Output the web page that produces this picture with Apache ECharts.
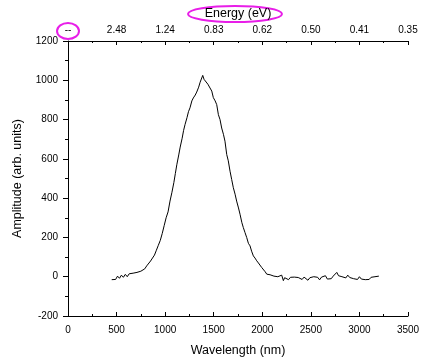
<!DOCTYPE html>
<html>
<head>
<meta charset="utf-8">
<script src="https://cdn.jsdelivr.net/npm/echarts@6/dist/echarts.min.js"></script>
<style>html,body{margin:0;padding:0;background:#fff;}#c{width:447px;height:362px;}</style>
</head>
<body>
<div id="c"></div>
<script>
const wavelengths = [450,470,490,510,530,550,570,590,610,630,650,670,690,710,730,750,770,790,810,830,850,870,890,910,930,950,970,990,1010,1030,1050,1070,1090,1105,1120,1140,1155,1175,1190,1205,1225,1240,1256,1275,1290,1310,1325,1345,1360,1375,1387,1400,1420,1440,1460,1480,1496,1515,1531,1548,1565,1582,1600,1616,1634,1650,1668,1685,1702,1720,1736,1755,1771,1790,1805,1822,1840,1857,1874,1890,1908,1925,1943,1960,1975,1994,2010,2030,2046,2065,2080,2100,2120,2140,2160,2180,2200,2217,2230,2250,2270,2290,2310,2330,2350,2370,2390,2410,2430,2450,2470,2490,2510,2530,2550,2570,2590,2610,2630,2650,2670,2690,2710,2730,2750,2767,2785,2800,2820,2840,2860,2880,2900,2920,2940,2960,2980,3000,3020,3040,3060,3080,3100,3120,3140,3160,3180,3200];
const amplitudes = [-15,-5,-14,3,-8,8,-3,12,0,15,5,18,10,22,20,28,22,40,55,65,80,95,110,135,160,185,220,260,300,330,385,430,480,525,570,620,660,705,745,775,810,840,860,895,910,925,940,965,990,1000,1025,1005,995,980,970,945,912,895,876,825,800,757,725,690,622,590,537,495,453,420,385,350,318,275,250,225,199,170,157,130,106,95,81,70,60,47,38,25,13,18,10,8,3,6,0,5,8,-20,-5,-8,-15,-3,-10,-2,-12,-4,-9,-14,-2,-8,-18,-5,-12,0,-10,-3,-16,-2,-8,5,-12,-2,-10,3,-5,22,5,12,0,10,-6,8,-4,6,-10,-3,-14,0,-12,-4,-15,-8,-14,-3,-8,0,-4,3];
const energyLabels = ['--','2.48','1.24','0.83','0.62','0.50','0.41','0.35'];

const FONT = 'Liberation Sans, Arial, sans-serif';
const chart = echarts.init(document.getElementById('c'), null, {renderer:'canvas'});
const lineStyle = {color:'#000', width:1};
const plain = function(v){ return String(v); };
chart.setOption({
  animation:false,
  backgroundColor:'#fff',
  grid:{left:68, right:39, top:41, bottom:45},
  xAxis:[{
    type:'value', position:'bottom', min:0, max:3500, interval:500,
    name:'Wavelength (nm)', nameLocation:'middle', nameGap:28,
    nameTextStyle:{fontFamily:FONT, fontSize:12.5, color:'#000'},
    axisLine:{show:true, onZero:false, lineStyle:lineStyle},
    axisTick:{show:true, inside:true, length:4, lineStyle:lineStyle},
    minorTick:{show:true, splitNumber:2, length:2, lineStyle:lineStyle},
    axisLabel:{fontFamily:FONT, fontSize:10, color:'#000', margin:9, formatter:plain},
    splitLine:{show:false}
  },{
    type:'value', position:'top', min:0, max:3500, interval:500,
    name:'Energy (eV)', nameLocation:'middle', nameGap:21,
    nameTextStyle:{fontFamily:FONT, fontSize:12.5, color:'#000'},
    axisLine:{show:true, onZero:false, lineStyle:lineStyle},
    axisTick:{show:true, inside:true, length:4, lineStyle:lineStyle},
    minorTick:{show:true, splitNumber:2, length:2, lineStyle:lineStyle},
    axisLabel:{fontFamily:FONT, fontSize:10, color:'#000', margin:6,
      formatter:function(v){ const i = Math.round(v/500); return energyLabels[i] !== undefined ? energyLabels[i] : ''; }},
    splitLine:{show:false}
  }],
  yAxis:{
    type:'value', min:-200, max:1200, interval:200,
    name:'Amplitude (arb. units)', nameLocation:'middle', nameGap:44,
    nameTextStyle:{fontFamily:FONT, fontSize:12.5, color:'#000'},
    axisLine:{show:true, onZero:false, lineStyle:lineStyle},
    axisTick:{show:true, inside:false, length:5, lineStyle:lineStyle},
    minorTick:{show:true, splitNumber:2, length:3, lineStyle:lineStyle},
    axisLabel:{fontFamily:FONT, fontSize:10, color:'#000', margin:10, formatter:plain},
    splitLine:{show:false}
  },
  graphic:[
    {type:'ellipse', shape:{cx:235, cy:14, rx:47, ry:8}, style:{fill:'none', stroke:'#e81ee8', lineWidth:2}},
    {type:'ellipse', shape:{cx:68, cy:31, rx:11, ry:8}, style:{fill:'none', stroke:'#e81ee8', lineWidth:2}}
  ],
  series:[{
    type:'line', xAxisIndex:0, yAxisIndex:0,
    data: wavelengths.map((w,i)=>[w, amplitudes[i]]),
    showSymbol:false, symbol:'none', smooth:false,
    lineStyle:{color:'#000', width:1}
  }]
});
</script>
</body>
</html>
